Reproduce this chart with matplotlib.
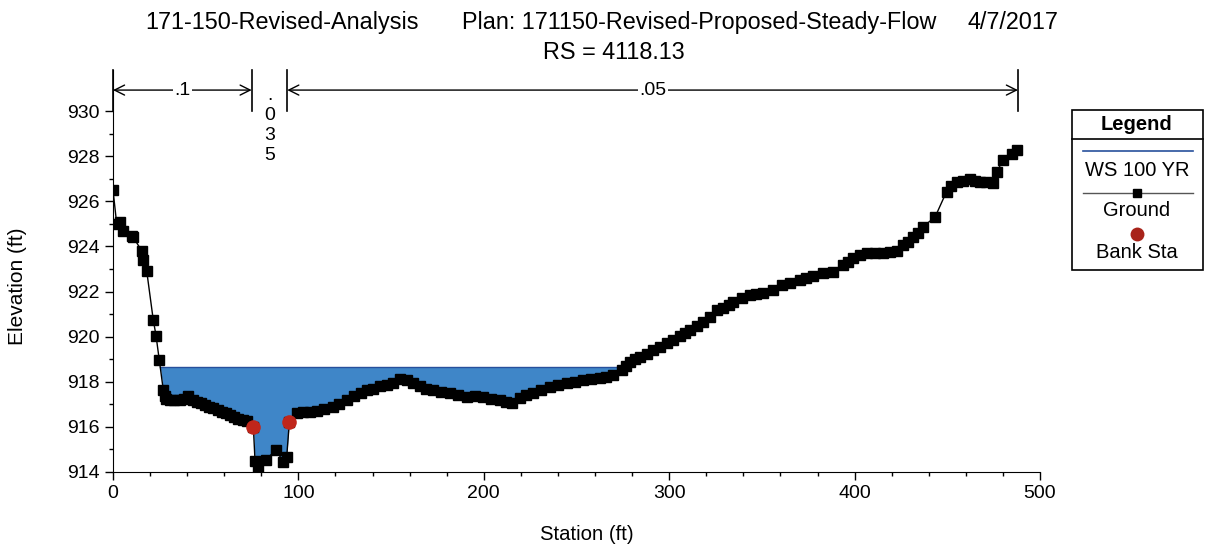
import numpy as np
import matplotlib
matplotlib.use('Agg')
import matplotlib.pyplot as plt
from matplotlib.patches import Rectangle

plt.rcParams['font.family'] = ['Liberation Sans', 'DejaVu Sans']

# Cross section (station ft, elevation ft)
station = [0, 2.0, 3.8, 5.2, 10.1, 11.0, 15.5, 16.3, 18.2, 21.7, 23.2, 25.0, 27.1, 28.0, 28.6,
           30.7, 33.0, 36.1, 38.5, 40.6, 43.0, 45.1, 47.5, 49.6, 52.0, 54.1, 56.5, 58.6, 61.0,
           63.1, 65.5, 67.6, 70.3, 72.5, 75.7, 76.6, 78.4, 82.5, 87.9, 91.9, 93.7, 95.1, 99.1,
           102.6, 106, 110, 114, 118.8, 122, 126, 130, 134, 136.8, 140, 144, 147.6, 151, 154.8,
           158.4, 162, 165.6, 169, 172.8, 177, 181.8, 186, 190.8, 195, 199.7, 204, 208.7, 212,
           215, 219.5, 223, 226.7, 231, 235.7, 240, 244.7, 249, 253.7, 258, 262.7, 266, 269.9,
           274.4, 276.5, 278.9, 281.5, 284.3, 288, 291.4, 295, 298.6, 302, 305.8, 308.5, 311.2,
           315, 318.4, 322, 325.6, 329.2, 332, 334.6, 339, 343.6, 347, 350.8, 356.2, 360.7, 365,
           370.6, 374, 377.7, 383, 388.5, 393.8, 396.5, 399.3, 403, 406.5, 411, 415.4, 419, 422.6,
           426.2, 429, 431.6, 434, 437, 443.4, 449.6, 452, 455, 458.5, 462.2, 465, 467.6, 471,
           474.8, 476.6, 480.2, 485, 487.4]
elevation = [926.5, 925.0, 925.1, 924.7, 924.45, 924.4, 923.8, 923.4, 922.9, 920.75, 920.05, 918.95,
             917.65, 917.35, 917.25, 917.2, 917.2, 917.2, 917.25, 917.35, 917.2, 917.1, 917.05,
             916.97, 916.9, 916.82, 916.75, 916.67, 916.6, 916.52, 916.45, 916.37, 916.3, 916.25,
             916.0, 914.5, 914.1, 914.55, 914.97, 914.45, 914.68, 916.2, 916.6, 916.67, 916.68,
             916.7, 916.78, 916.9, 917.0, 917.2, 917.35, 917.5, 917.63, 917.7, 917.8, 917.85,
             917.95, 918.12, 918.1, 917.95, 917.8, 917.7, 917.63, 917.55, 917.49, 917.4, 917.34,
             917.35, 917.32, 917.25, 917.19, 917.1, 917.04, 917.3, 917.4, 917.49, 917.62, 917.78,
             917.85, 917.93, 918.0, 918.08, 918.12, 918.18, 918.22, 918.3, 918.52, 918.7, 918.89,
             919.0, 919.1, 919.25, 919.4, 919.55, 919.7, 919.85, 920.03, 920.15, 920.3, 920.48,
             920.66, 920.88, 921.18, 921.26, 921.42, 921.55, 921.7, 921.84, 921.9, 921.92, 922.07,
             922.29, 922.4, 922.51, 922.6, 922.69, 922.8, 922.88, 923.17, 923.3, 923.47, 923.6,
             923.7, 923.72, 923.72, 923.76, 923.81, 924.06, 924.2, 924.4, 924.6, 924.88, 925.3,
             926.43, 926.7, 926.87, 926.92, 926.97, 926.9, 926.87, 926.85, 926.83, 927.31, 927.83,
             928.1, 928.27]

ws_elev = 918.64
bank_sta = [75.7, 95.1]
bank_elev = [916.0, 916.2]

n_breaks = [0, 74.8, 94.0, 488.1]
n_values = ['.1', '.035', '.05']

title_parts = ['171-150-Revised-Analysis', 'Plan: 171150-Revised-Proposed-Steady-Flow', '4/7/2017']
subtitle = 'RS = 4118.13'

W, H = 1212, 551
fig = plt.figure(figsize=(W / 100, H / 100), dpi=100)
ax = fig.add_axes([113 / W, 79 / H, (1040 - 113) / W, (472 - 70) / H])

sta = np.array(station)
el = np.array(elevation)

# water surface
water_c = '#3f86c8'
ax.fill_between(sta, el, ws_elev, where=el < ws_elev, interpolate=True,
                color=water_c, lw=0, zorder=1)
wet = np.where(el < ws_elev)[0]
i0, i1 = wet[0], wet[-1]
x_left = np.interp(ws_elev, [el[i0], el[i0 - 1]], [sta[i0], sta[i0 - 1]])
x_right = np.interp(ws_elev, [el[i1], el[i1 + 1]], [sta[i1], sta[i1 + 1]])
ax.plot([x_left, x_right], [ws_elev, ws_elev], color='#27509c', lw=1, zorder=2)

# ground
ax.plot(sta, el, color='black', lw=1, marker='s', ms=6.5, zorder=3)
ax.plot(bank_sta, bank_elev, 'o', color='#c0261b', ms=10.5, zorder=4, mec='none')

ax.set_xlim(0, 500)
ax.set_ylim(914, 931.82)
ax.set_xticks(np.arange(0, 501, 100))
ax.set_xticks(np.arange(0, 501, 20), minor=True)
ax.set_yticks(np.arange(914, 931, 2))
ax.set_yticks(np.arange(915, 931, 2), minor=True)
ax.tick_params(which='major', length=6, width=1, labelsize=14, direction='out')
ax.tick_params(which='minor', length=3, width=1, direction='out')
for s in ['top', 'right']:
    ax.spines[s].set_visible(False)

# Manning's n annotations
y_arr = 930.93
for xb in n_breaks:
    ax.plot([xb, xb], [930.0, 931.82], color='black', lw=1.2, clip_on=False)
for k, n in enumerate(n_values):
    a, b = n_breaks[k], n_breaks[k + 1]
    mid = (a + b) / 2
    if b - a > 40:
        ax.annotate('', xy=(a, y_arr), xytext=(b, y_arr),
                    arrowprops=dict(arrowstyle='<->', lw=1, color='black',
                                    shrinkA=0, shrinkB=0, mutation_scale=18),
                    annotation_clip=False)
        ax.text(mid, y_arr, n, ha='center', va='center', fontsize=14,
                bbox=dict(facecolor='white', edgecolor='none', pad=1))
    else:
        ax.text(mid, 929.35, '\n'.join(n), ha='center', va='center', fontsize=14,
                linespacing=1.22)

# titles
fig.text(145 / W, 1 - 29 / H, title_parts[0], ha='left', va='baseline', fontsize=16.8)
fig.text(462 / W, 1 - 29 / H, title_parts[1], ha='left', va='baseline', fontsize=16.8)
fig.text(968 / W, 1 - 29 / H, title_parts[2], ha='left', va='baseline', fontsize=16.8)
fig.text(614 / W, 1 - 59 / H, subtitle, ha='center', va='baseline', fontsize=16.8)
fig.text(18 / W, 1 - 286 / H, 'Elevation (ft)', rotation=90, ha='center', va='center', fontsize=15)
fig.text(587 / W, 1 - 535 / H, 'Station (ft)', ha='center', va='center', fontsize=14.6)

# legend panel
lax = fig.add_axes([0, 0, 1, 1])
lax.set_xlim(0, W)
lax.set_ylim(H, 0)
lax.axis('off')
lax.add_patch(Rectangle((1072, 110), 131, 160, fill=False, lw=1.2, ec='black'))
lax.plot([1072, 1203], [139, 139], color='black', lw=1.2)
lax.text(1137, 124, 'Legend', ha='center', va='center', fontsize=14.5, weight='bold')
lax.plot([1083, 1193], [151, 151], color='#27509c', lw=1.2)
lax.text(1137, 170, 'WS 100 YR', ha='center', va='center', fontsize=14.5)
lax.plot([1083, 1193], [193, 193], color='#555555', lw=1)
lax.plot([1137], [193], 's', color='black', ms=5.5)
lax.text(1137, 211, 'Ground', ha='center', va='center', fontsize=14.5)
lax.plot([1137], [234], 'o', color='#a8231a', ms=10, mec='none')
lax.text(1137, 252, 'Bank Sta', ha='center', va='center', fontsize=14.5)

fig.savefig('out.png', dpi=100)
